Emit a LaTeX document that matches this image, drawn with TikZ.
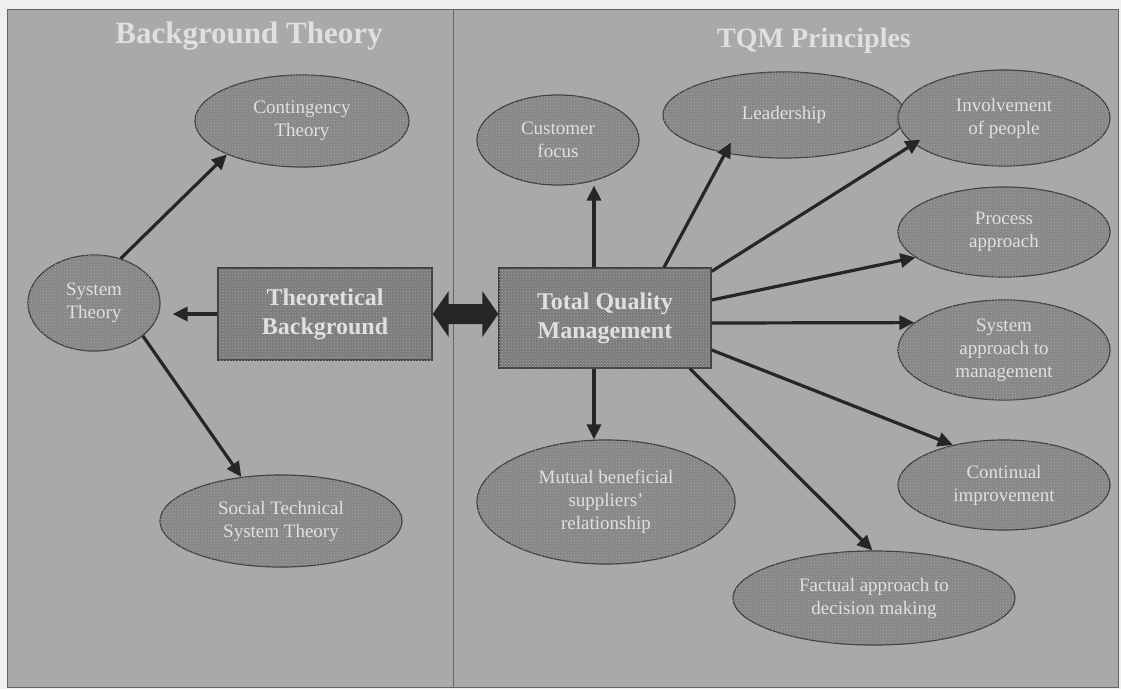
\documentclass[tikz,border=0pt]{standalone}
\usepackage{fontspec}
\setmainfont{Liberation Serif}
\usetikzlibrary{arrows.meta,shapes.geometric,calc,patterns}
\definecolor{page}{HTML}{EFEFEF}
\definecolor{panel}{HTML}{A9A9A9}
\definecolor{blob}{HTML}{868686}
\definecolor{edge}{HTML}{3F3F3F}
\definecolor{ink}{HTML}{E0E0E0}

\begin{document}
\begin{tikzpicture}[x=1pt,y=-1pt,
  panelbox/.style={fill=panel,draw=edge!80,line width=0.8pt},
  heading/.style={font=\fontsize{28}{32}\selectfont\bfseries,text=ink},
  mesh/.style={postaction={pattern=crosshatch dots,pattern color=black!35}},
  oval/.style={ellipse,draw=edge,line width=1.2pt,fill=blob,mesh,text=ink,align=center,
    inner sep=0pt,font=\fontsize{19}{23}\selectfont},
  hub/.style={rectangle,draw=edge,line width=1.4pt,fill=blob!92!black,mesh,text=ink,
    align=center,inner sep=0pt,font=\fontsize{24}{29}\selectfont\bfseries},
  link/.style={draw=black!85,line width=3.2pt,-{Triangle[length=15pt,width=14pt]}},
]
% canvas and the two panels
\fill[page] (0,0) rectangle (1121,689);
\useasboundingbox (0,0) rectangle (1121,689);
\draw[panelbox] (7,9) rectangle (453,687);
\draw[panelbox] (453,9) rectangle (1118,687);

% panel headings
\node[heading,font=\fontsize{31}{35}\selectfont\bfseries] (hleft) at (249,36) {Background Theory};
\node[heading] (hright) at (814,41) {TQM Principles};

% left side: theory
\node[hub,minimum width=214pt,minimum height=92pt] (theo) at (325,314) {Theoretical\\Background};
\node[oval,minimum width=132pt,minimum height=96pt] (sys) at (94,303) {System\\Theory};
\node[oval,minimum width=214pt,minimum height=92pt] (cont) at (302,121) {Contingency\\Theory};
\node[oval,minimum width=242pt,minimum height=92pt] (stst) at (281,521) {Social Technical\\System Theory};

% right side: TQM principles
\node[hub,minimum width=212pt,minimum height=100pt] (tqm) at (605,318) {Total Quality\\Management};
\node[oval,minimum width=162pt,minimum height=90pt] (cust) at (558,140) {Customer\\focus};
\node[oval,minimum width=242pt,minimum height=86pt] (lead) at (784,115) {Leadership};
\node[oval,minimum width=212pt,minimum height=96pt] (invol) at (1004,118) {Involvement\\of people};
\node[oval,minimum width=212pt,minimum height=90pt] (proc) at (1004,232) {Process\\approach};
\node[oval,minimum width=212pt,minimum height=100pt] (sysap) at (1004,350) {System\\approach to\\management};
\node[oval,minimum width=212pt,minimum height=90pt] (contimp) at (1004,485) {Continual\\improvement};
\node[oval,minimum width=258pt,minimum height=124pt] (mutual) at (606,502) {Mutual beneficial\\suppliers'\\relationship};
\node[oval,minimum width=282pt,minimum height=94pt] (fact) at (874,598) {Factual approach to\\decision making};

% connectors on the left
\draw[link] (sys.59) -- (cont.204);
\draw[link,shorten >=12pt] (theo.west) -- (theo.west -| sys.east);
\draw[link] (sys.326) -- (stst.132);

% two-headed link between the two hubs
\fill[black!85] (theo.east) -- ++(16,-23) -- ++(0,13)
  -- ($(theo.east -| tqm.west)+(-16,-10)$) -- ++(0,-13)
  -- (theo.east -| tqm.west) -- ++(-16,23) -- ++(0,-13)
  -- ($(theo.east)+(16,10)$) -- ++(0,13) -- cycle;

% connectors on the right
\draw[link] ([xshift=-11pt]tqm.north) -- ([xshift=-11pt]tqm.north |- cust.south);
\draw[link,shorten >=-12pt] ([xshift=59pt]tqm.north) -- (lead.213);
\draw[link,shorten >=-8pt] ([yshift=-4pt]tqm.north east) -- (invol.196);
\draw[link] ([yshift=18pt]tqm.east) -- (proc.196);
\draw[link] ([yshift=-5pt]tqm.east) -- (sysap.163);
\draw[link] ([yshift=-32pt]tqm.east) -- (contimp.142);
\draw[link] ([xshift=85pt]tqm.south) -- (fact.92);
\draw[link] ([xshift=-11pt]tqm.south) -- ([xshift=-11pt]tqm.south |- mutual.north);
\end{tikzpicture}
\end{document}
